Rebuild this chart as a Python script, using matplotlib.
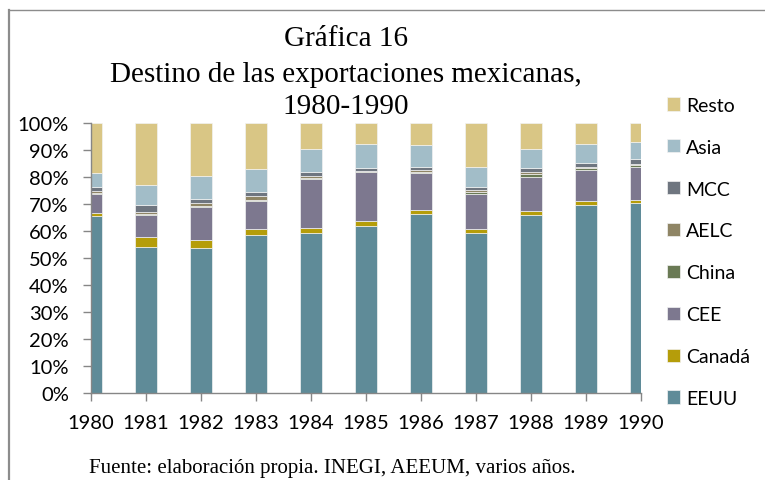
import matplotlib
matplotlib.use("Agg")
import matplotlib.pyplot as plt
import numpy as np
from matplotlib.lines import Line2D

years = [1980, 1981, 1982, 1983, 1984, 1985, 1986, 1987, 1988, 1989, 1990]

# Share of exports by destination (%), stacked bottom to top
eeuu   = [65.7, 54.2, 53.7, 58.6, 59.1, 61.7, 66.3, 59.3, 66.0, 69.8, 70.5]
canada = [1.0, 3.5, 2.8, 2.1, 2.0, 1.9, 1.5, 1.4, 1.3, 1.2, 1.0]
cee    = [7.1, 8.3, 12.3, 10.5, 18.3, 18.1, 13.6, 13.1, 12.8, 11.6, 12.3]
china  = [0.3, 0.4, 0.4, 0.3, 0.4, 0.4, 0.5, 0.5, 1.0, 0.6, 0.5]
aelc   = [0.6, 0.8, 1.0, 1.3, 0.7, 0.3, 0.7, 0.8, 0.6, 0.4, 0.6]
mcc    = [1.7, 2.3, 1.8, 1.8, 1.5, 1.1, 1.2, 1.3, 1.6, 1.7, 1.8]
asia   = [5.0, 7.7, 8.5, 8.2, 8.5, 8.6, 7.9, 7.3, 7.2, 6.8, 6.1]
resto  = [100 - sum(v) for v in zip(eeuu, canada, cee, china, aelc, mcc, asia)]

series = [
    ("EEUU", eeuu, "#5F8B98"),
    ("Canadá", canada, "#B59D0A"),
    ("CEE", cee, "#7D788F"),
    ("China", china, "#6A7A55"),
    ("AELC", aelc, "#8F8565"),
    ("MCC", mcc, "#6F7680"),
    ("Asia", asia, "#A2BDC8"),
    ("Resto", resto, "#D9C685"),
]

title_lines = ["Gráfica 16", "Destino de las exportaciones mexicanas,", "1980-1990"]
source_text = "Fuente: elaboración propia. INEGI, AEEUM, varios años."

W, H = 765, 481
fig = plt.figure(figsize=(W / 100, H / 100), dpi=100)
fig.patch.set_facecolor("white")

# outer frame (left and top edges)
fig.lines.append(Line2D([9 / W, 9 / W], [0, 1 - 11 / H], transform=fig.transFigure,
                        color="#8c8c8c", linewidth=1.6))
fig.lines.append(Line2D([9 / W, 764 / W], [1 - 11 / H, 1 - 11 / H], transform=fig.transFigure,
                        color="#8c8c8c", linewidth=1.0))

ax = fig.add_axes([91 / W, (H - 394) / H, (641 - 91) / W, (394 - 124) / H])

sans = ["Lato", "DejaVu Sans"]
serif = ["Liberation Serif", "DejaVu Serif"]

bottom = np.zeros(len(years))
handles = []
for name, vals, color in series:
    b = ax.bar(years, vals, width=0.4, bottom=bottom, color=color,
               edgecolor="#f2f2f2", linewidth=0.5, label=name)
    handles.append(b)
    bottom += np.array(vals)

ax.set_xlim(1980, 1990)
ax.set_ylim(0, 100)
ax.set_yticks(np.arange(0, 101, 10))
ax.set_yticklabels([f"{v}%" for v in range(0, 101, 10)], fontfamily=sans, fontsize=14.5)
ax.set_xticks(years)
ax.set_xticklabels([str(y) for y in years], fontfamily=sans, fontsize=14.5)

for s in ["top", "right"]:
    ax.spines[s].set_visible(False)
for s in ["left", "bottom"]:
    ax.spines[s].set_color("#868686")
    ax.spines[s].set_linewidth(1.0)
ax.tick_params(axis="both", colors="#868686", labelcolor="black", length=6, width=1.0)
ax.tick_params(axis="x", pad=9)
ax.tick_params(axis="y", pad=10)

# legend: top-to-bottom order reversed from stacking
leg = fig.legend(handles[::-1], [s[0] for s in series][::-1],
                 loc="upper left", bbox_to_anchor=(657 / W, 1 - 88 / H),
                 frameon=False, prop={"family": sans, "size": 14},
                 handlelength=0.68, handleheight=0.68, handletextpad=0.3,
                 labelspacing=1.28, borderpad=0)

# title lines
for text, yb in zip(title_lines, [46, 82, 114]):
    fig.text(346 / W, 1 - yb / H, text, ha="center", va="baseline",
             fontfamily=serif, fontsize=21)

fig.text(89 / W, 1 - 473 / H, source_text, ha="left", va="baseline",
         fontfamily=serif, fontsize=15)

fig.savefig("out.png", dpi=100)
